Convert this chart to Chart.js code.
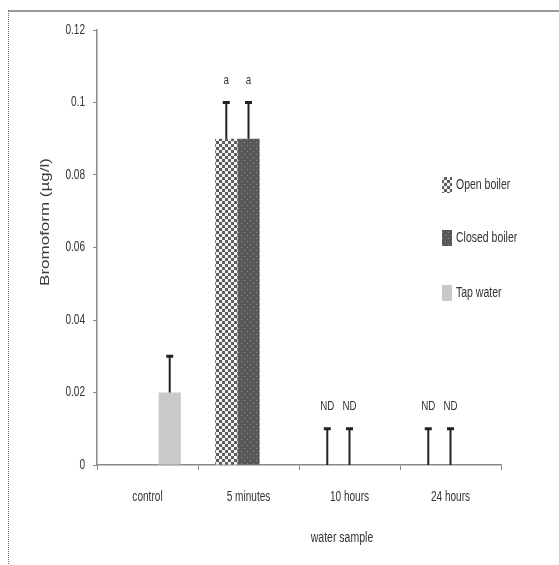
<!DOCTYPE html>
<html>
<head>
<meta charset="utf-8">
<script src="https://cdn.jsdelivr.net/npm/chart.js@4.4.0/dist/chart.umd.min.js"></script>
<style>
  html, body { margin: 0; padding: 0; background: #fff; }
  #wrap { position: relative; width: 559px; height: 565px; overflow: hidden; }
  #frame { position: absolute; left: 8px; top: 10px; right: -5px; bottom: -5px;
           border-top: 2px solid #9a9a9a; border-left: 1px dotted #666; }
  canvas { position: absolute; left: 0; top: 0; }
</style>
</head>
<body>
<div id="wrap">
  <div id="frame"></div>
  <canvas id="chart" width="559" height="565"></canvas>
</div>
<script>
// values
const categories = ['control', '5 minutes', '10 hours', '24 hours'];
const openBoiler = [null, 0.09, 0, 0];
const closedBoiler = [null, 0.09, 0, 0];
const tapWater = [0.02, null, null, null];
const openErr = [null, 0.01, 0.01, 0.01];
const closedErr = [null, 0.01, 0.01, 0.01];
const tapErr = [0.01, null, null, null];
const openMarks = ['', 'a', 'ND', 'ND'];
const closedMarks = ['', 'a', 'ND', 'ND'];
const tapMarks = ['', '', '', ''];
const yTicks = [0, 0.02, 0.04, 0.06, 0.08, 0.1, 0.12];

const SANS = "'Liberation Sans', Arial, sans-serif";
const AXIS_GRAY = '#8a8a8a';
const TEXT = '#333';

// fill patterns
function makePattern(size, draw) {
  const c = document.createElement('canvas');
  c.width = size; c.height = size;
  draw(c.getContext('2d'));
  return c.getContext('2d').createPattern(c, 'repeat');
}
const checker = makePattern(6, g => {
  g.fillStyle = '#f4f4f4'; g.fillRect(0, 0, 6, 6);
  g.fillStyle = '#5e5e5e';
  g.fillRect(3, 0, 3, 3);
  g.fillRect(0, 3, 3, 3);
});
const dotted = makePattern(6, g => {
  g.fillStyle = '#585858'; g.fillRect(0, 0, 6, 6);
  g.fillStyle = '#8e8e8e';
  g.fillRect(1, 1, 1, 1);
  g.fillRect(4, 4, 1, 1);
});

// the original text is horizontally condensed
function squeezedText(ctx, text, x, y, size, align, squeeze) {
  ctx.save();
  ctx.translate(x, y);
  ctx.scale(squeeze || 0.75, 1);
  ctx.font = size + 'px ' + SANS;
  ctx.fillStyle = TEXT;
  ctx.textAlign = align;
  ctx.textBaseline = 'middle';
  ctx.fillText(text, 0, 0);
  ctx.restore();
}

// error bars (upper only) + labels above them
const errorBarPlugin = {
  id: 'errorBars',
  afterDatasetsDraw(chart) {
    const ctx = chart.ctx;
    const y = chart.scales.y;
    chart.data.datasets.forEach((ds, i) => {
      const meta = chart.getDatasetMeta(i);
      ds.data.forEach((v, j) => {
        const err = ds.errors[j];
        if (v === null || err === null) return;
        const x = meta.data[j].x;
        const y0 = y.getPixelForValue(v);
        const y1 = y.getPixelForValue(v + err);
        ctx.save();
        ctx.strokeStyle = '#222';
        ctx.lineWidth = 2;
        ctx.beginPath();
        ctx.moveTo(x, y0);
        ctx.lineTo(x, y1);
        ctx.stroke();
        ctx.lineWidth = 3;
        ctx.beginPath();
        ctx.moveTo(x - 3.5, y1);
        ctx.lineTo(x + 3.5, y1);
        ctx.stroke();
        ctx.restore();
        const mark = ds.marks[j];
        if (mark) squeezedText(ctx, mark, x, y1 - 22, 13, 'center');
      });
    });
  }
};

// tick labels (condensed), legend and axis titles
const annotations = {
  id: 'annotations',
  afterDraw(chart, args, opts) {
    const ctx = chart.ctx;
    const xs = chart.scales.x, ys = chart.scales.y;

    xs.ticks.forEach((t, i) => {
      squeezedText(ctx, categories[t.value], xs.getPixelForTick(i), xs.top + 32, 14, 'center', 0.72);
    });
    ys.ticks.forEach((t, i) => {
      squeezedText(ctx, String(+t.value.toFixed(2)), ys.right - 12, ys.getPixelForTick(i), 14, 'right', 0.72);
    });

    chart.data.datasets.forEach((ds, i) => {
      const cy = opts.rows[i];
      ctx.fillStyle = ds.backgroundColor;
      ctx.fillRect(opts.x, cy - 8, 10, 16);
      squeezedText(ctx, ds.label, opts.x + 14, cy, 14, 'left');
    });

    squeezedText(ctx, opts.xTitle, opts.xTitlePos[0], opts.xTitlePos[1], 14, 'center');

    ctx.save();
    ctx.translate(opts.yTitlePos[0], opts.yTitlePos[1]);
    ctx.rotate(-Math.PI / 2);
    ctx.scale(1, 0.78);
    ctx.font = '17px ' + SANS;
    ctx.fillStyle = '#3a3a3a';
    ctx.textAlign = 'center';
    ctx.textBaseline = 'middle';
    ctx.fillText(opts.yTitle, 0, 0);
    ctx.restore();
  }
};

new Chart(document.getElementById('chart'), {
  type: 'bar',
  data: {
    labels: categories,
    datasets: [
      { label: 'Open boiler', data: openBoiler, errors: openErr, marks: openMarks, backgroundColor: checker },
      { label: 'Closed boiler', data: closedBoiler, errors: closedErr, marks: closedMarks, backgroundColor: dotted },
      { label: 'Tap water', data: tapWater, errors: tapErr, marks: tapMarks, backgroundColor: '#c9c9c9' }
    ]
  },
  options: {
    responsive: false,
    animation: false,
    categoryPercentage: 0.66,
    barPercentage: 1.0,
    layout: { padding: { left: 0, top: 30, right: 58, bottom: 0 } },
    plugins: {
      legend: { display: false },
      tooltip: { enabled: false },
      annotations: {
        x: 442, rows: [185, 238, 293],
        xTitle: 'water sample', xTitlePos: [342, 538],
        yTitle: 'Bromoform (\u00b5g/l)', yTitlePos: [45, 222]
      }
    },
    scales: {
      x: {
        grid: { drawOnChartArea: false, drawTicks: true, tickLength: 5, color: AXIS_GRAY, offset: true },
        border: { color: AXIS_GRAY, width: 1.5 },
        ticks: { display: false },
        afterFit: s => { s.height = 100; }
      },
      y: {
        min: 0,
        max: 0.12,
        afterBuildTicks: s => { s.ticks = yTicks.map(v => ({ value: v })); },
        grid: { drawOnChartArea: false, drawTicks: true, tickLength: 4, color: AXIS_GRAY },
        border: { color: AXIS_GRAY, width: 1.5 },
        ticks: { display: false },
        afterFit: s => { s.width = 97; }
      }
    }
  },
  plugins: [errorBarPlugin, annotations]
});
</script>
</body>
</html>
